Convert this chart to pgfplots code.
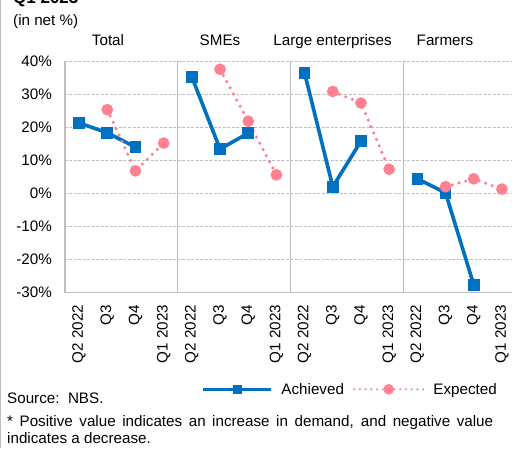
\documentclass[border=0pt]{standalone}
\usepackage{pgfplots}
\usepackage{pgfplotstable}
\pgfplotsset{compat=1.18}
\usepackage{fontspec}
\setmainfont{Liberation Sans}
\definecolor{achblue}{RGB}{0,112,192}
\definecolor{exppink}{RGB}{255,128,145}
\definecolor{gridgray}{RGB}{191,191,191}
\pgfplotsset{
  achlegend/.style={legend image code/.code={\draw[achblue, line width=2.6pt] (0pt,0pt) -- (68pt,0pt); \fill[achblue] (31.5pt,-2.7pt) rectangle (36.9pt,2.7pt);}},
  explegend/.style={legend image code/.code={\draw[exppink, line width=2.4pt, line cap=round, dash pattern=on 0pt off 5.75pt] (0pt,0pt) -- (69pt,0pt); \fill[exppink, solid] (34.5pt,0pt) circle (3.4pt);}},
}
\pgfplotstableread{
x ach exp
0 21.3 nan
1 18.3 25.3
2 14.0 6.8
3 nan 15.2
4 35.2 nan
5 13.4 37.5
6 18.2 21.8
7 nan 5.6
8 36.4 nan
9 2.0 30.8
10 15.8 27.3
11 nan 7.3
12 4.4 nan
13 0.2 2.0
14 -27.6 4.4
15 nan 1.3
}\datatable
\begin{document}
\begin{tikzpicture}[x=1pt,y=1pt,font=\fontsize{15.2}{18}\selectfont]
\path[use as bounding box] (0,0) rectangle (512,448);
\draw[gridgray, line width=1pt] (0.5,0) -- (0.5,448);
\begin{axis}[
  at={(65pt,155.3pt)}, anchor=south west,
  scale only axis, width=451pt, height=231.7pt,
  xmin=-0.5, xmax=15.5, ymin=-30, ymax=40,
  ytick={-30,-20,...,40},
  yticklabels={-30\%,-20\%,-10\%,0\%,10\%,20\%,30\%,40\%},
  xtick={0,...,15},
  xticklabels={Q2 2022,Q3,Q4,Q1 2023,Q2 2022,Q3,Q4,Q1 2023,Q2 2022,Q3,Q4,Q1 2023,Q2 2022,Q3,Q4,Q1 2023},
  xticklabel style={rotate=90, anchor=east, inner sep=0pt, xshift=-12pt},
  yticklabel style={anchor=east, inner sep=0pt, xshift=-13pt},
  major tick length=0pt,
  axis lines*=left,
  axis line style={gridgray, line width=1.2pt, -},
  ymajorgrids,
  major grid style={gridgray, line width=1pt, dash pattern=on 3pt off 1.5pt},
  unbounded coords=jump,
  clip=false,
  legend style={at={(axis description cs:0.303,-0.417)}, anchor=west, draw=none, fill=none, inner sep=0pt,
    legend columns=2, /tikz/every odd column/.append style={column sep=9pt},
    /tikz/every even column/.append style={column sep=9pt},
    nodes={inner sep=0pt}},
  legend cell align=left,
]
\draw[gridgray, line width=1.2pt] (axis cs:3.5,-30) -- (axis cs:3.5,40);
\draw[gridgray, line width=1.2pt] (axis cs:7.5,-30) -- (axis cs:7.5,40);
\draw[gridgray, line width=1.2pt] (axis cs:11.5,-30) -- (axis cs:11.5,40);
\addplot[achblue, line width=3.6pt, mark=square*, mark size=4pt, mark options={solid, fill=achblue, draw=none},
  achlegend] table[x=x, y=ach] {\datatable};
\addlegendentry{Achieved}
\addplot[exppink, line width=3.5pt, line cap=round, dash pattern=on 0pt off 7pt, mark=*, mark size=4pt, mark options={solid, fill=exppink, draw=none},
  explegend] table[x=x, y=exp] {\datatable};
\addlegendentry{Expected}
\end{axis}
\node[anchor=base] at (108,402) {Total};
\node[anchor=base] at (220,402) {SMEs};
\node[anchor=base] at (332.5,402) {Large enterprises};
\node[anchor=base] at (445,402) {Farmers};
\node[anchor=base west, inner sep=0pt, font=\fontsize{17}{20}\selectfont\bfseries] at (13,444) {Q1 2023};
\node[anchor=base west, inner sep=0pt] at (13,422) {(in net \%)};
\node[anchor=base west, inner sep=0pt] at (7,45) {Source:\ \ NBS.};
\node[anchor=base west, inner sep=0pt] at (7,22) {\makebox[486pt][s]{* Positive value indicates an increase in demand, and negative value}};
\node[anchor=base west, inner sep=0pt] at (7,5) {indicates a decrease.};
\end{tikzpicture}
\end{document}
